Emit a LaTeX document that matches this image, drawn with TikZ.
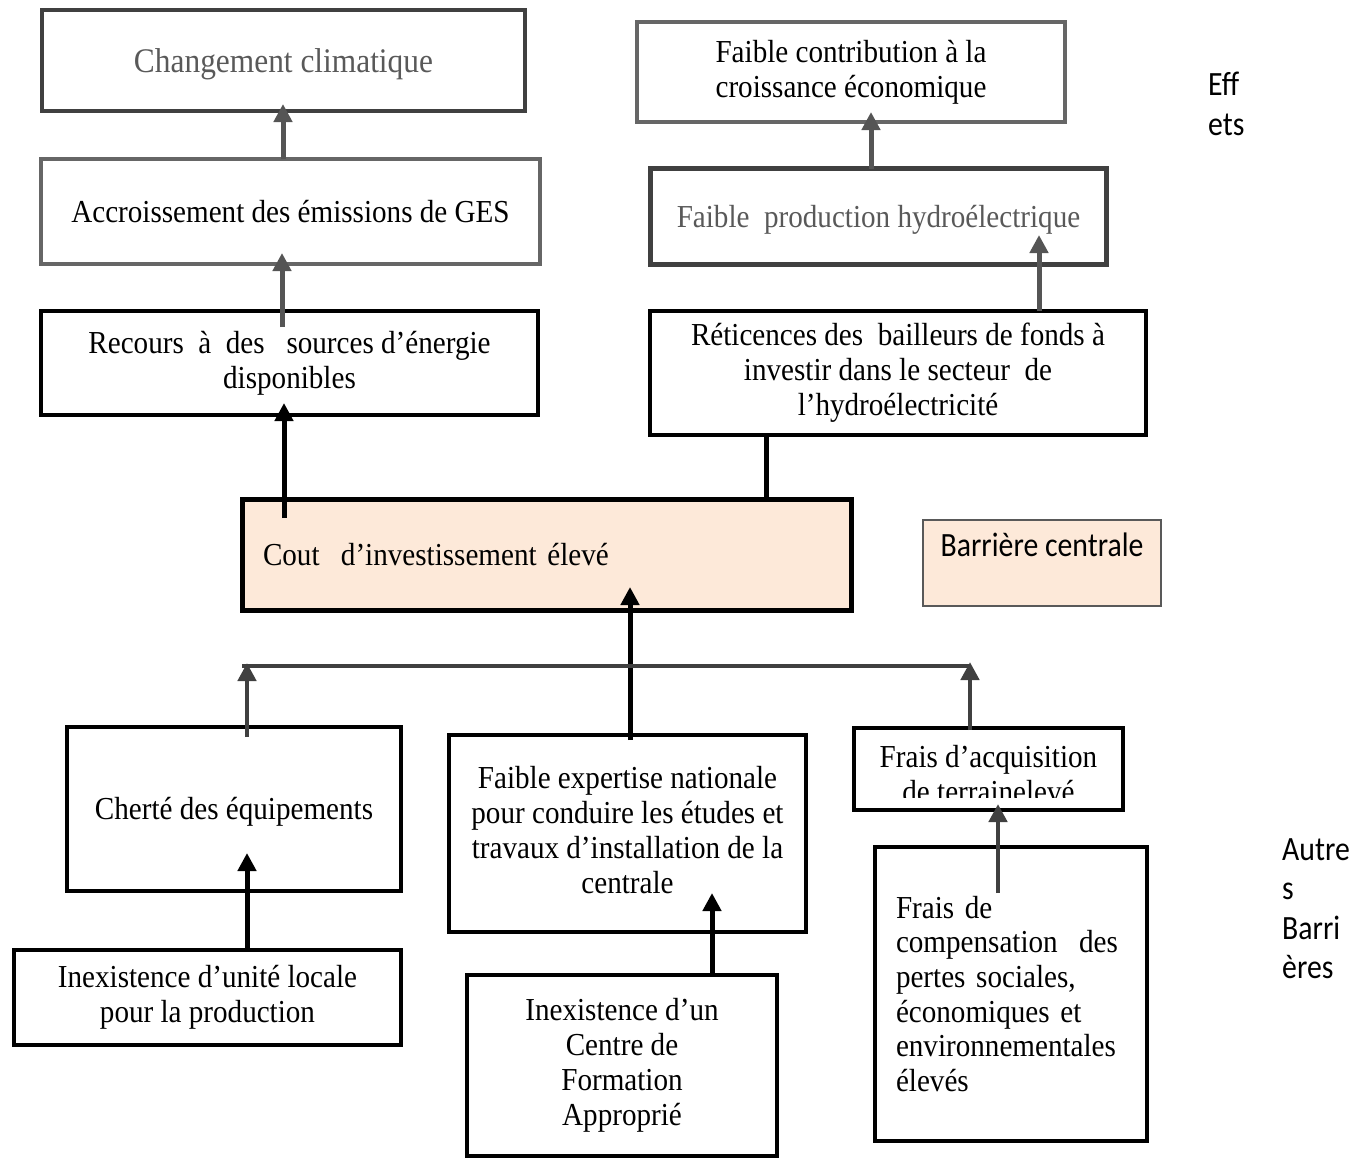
\documentclass[tikz,border=0pt]{standalone}
\usepackage{fontspec}
\setmainfont{Liberation Serif}[FakeStretch=0.91]
\newfontfamily\legendfont{Carlito}[FakeStretch=0.875]
\usepackage{xcolor}
\usepackage{tikz}
\usetikzlibrary{arrows.meta}

\definecolor{peach}{HTML}{FDE9D9}
\definecolor{darkline}{HTML}{404040}
\definecolor{midline}{HTML}{555555}
\definecolor{lightline}{HTML}{666666}
\definecolor{graytext}{HTML}{595959}
\newcommand\wstrut{\rule[-0.216em]{0pt}{1.107em}}

\begin{document}
\begin{tikzpicture}[x=1pt,y=-1pt,
    every node/.style={font=\fontsize{32}{35}\selectfont},
    box/.style={rectangle,draw,anchor=north west,align=center,inner sep=0pt,outer sep=0pt,
      execute at begin node=\wstrut,execute at end node=\wstrut},
    effectbox/.style={box},
    causebox/.style={box,draw=black,line width=4.5pt},
    corebox/.style={box,draw=black,line width=5pt,fill=peach},
    legendbox/.style={rectangle,draw=graytext,line width=1.5pt,fill=peach,anchor=north west,
      inner sep=0pt,outer sep=0pt,font={\legendfont\fontsize{34}{38}\selectfont}},
    sidelabel/.style={anchor=north west,align=left,inner sep=0pt,
      font={\legendfont\fontsize{34}{39.5}\selectfont}},
    effectedge/.style={line width=5pt,midline,-{Triangle[width=18pt,length=18pt]}},
    causeedge/.style={line width=5pt,black,-{Triangle[width=18pt,length=18pt]}},
    causeline/.style={line width=5pt,black},
    baredge/.style={line width=4.5pt,darkline,-{Triangle[width=18pt,length=18pt]}},
    barline/.style={line width=4pt,darkline},
]
\useasboundingbox (0,0) rectangle (1371,1160);

\node[effectbox,draw=darkline,line width=4.5pt,text=graytext,font=\fontsize{34.5}{38}\selectfont,
  minimum width=483pt,minimum height=101pt] (clim) at (42,10) {Changement climatique};
\node[effectbox,draw=lightline,line width=3.5pt,minimum width=499pt,minimum height=105pt] (ges) at (41,159)
  {Accroissement des émissions de GES};
\node[causebox,line width=4pt,minimum width=497pt,minimum height=104pt] (recours) at (41,311)
  {Recours\ \ à\ \ des\ \ \ sources d’énergie\\disponibles};
\node[effectbox,draw=lightline,line width=3.5pt,minimum width=428pt,minimum height=100pt] (contrib) at (637,22)
  {Faible contribution à la\\croissance économique};
\node[effectbox,draw=darkline,line width=5pt,text=graytext,minimum width=456pt,minimum height=96pt] (hydro) at (650.5,168.5)
  {Faible\ \ production hydroélectrique};
\node[causebox,line width=4pt,minimum width=496pt,minimum height=124pt] (retic) at (650,311)
  {Réticences des\ \ bailleurs de fonds à\\investir dans le secteur\ \ de\\l’hydroélectricité};
\node[corebox,minimum width=609pt,minimum height=111pt,text width=568pt,inner xsep=20.5pt,align=left] (cout) at (242.5,499.5)
  {Cout\ \ d’investissement élevé};
\node[legendbox,minimum width=238pt,minimum height=86pt,text height=23pt,text depth=37pt] (central) at (923,520)
  {Barrière centrale};

\node[causebox,minimum width=334pt,minimum height=164pt] (cherte) at (67,727) {Cherté des équipements};
\node[causebox,minimum width=357pt,minimum height=197pt] (expert) at (449,735)
  {Faible expertise nationale\\pour conduire les études et\\travaux d’installation de la\\centrale};
\node[causebox,minimum width=269pt,minimum height=82pt] (acq) at (854,728) {};
\begin{scope}
  \clip (acq.north west) rectangle ([yshift=13pt]acq.south east);
  \node[align=center,inner sep=0pt,anchor=north,execute at begin node=\wstrut] (acqtext) at ([yshift=-17pt]acq.north)
    {Frais d’acquisition\\de terrainelevé};
\end{scope}
\node[causebox,minimum width=272pt,minimum height=294pt,text width=230pt,inner xsep=21pt,align=left,
  font=\fontsize{32}{34.6}\selectfont] (comp) at (875,847)
  {Frais de\\compensation\ \ des\\pertes sociales,\\économiques et\\environnementales\\élevés};
\node[causebox,minimum width=387pt,minimum height=95pt] (unite) at (14,950)
  {Inexistence d’unité locale\\pour la production};
\node[causebox,minimum width=310pt,minimum height=181pt] (centre) at (467,975)
  {Inexistence d’un\\Centre de\\Formation\\Approprié};

\node[sidelabel] (effets) at (1208,72) {Eff\\ets};
\node[sidelabel] (autres) at (1282,838) {Autre\\s\\Barri\\ères};

\draw[effectedge,shorten >=-7pt] (ges.north -| 283,0) -- (clim.south -| 283,0);
\draw[effectedge,shorten <=-16pt,shorten >=-11pt] (recours.north -| 282,0) -- (ges.south -| 282,0);
\draw[causeedge,shorten <=-18.5pt,shorten >=-12pt] (cout.north -| 284,0) -- (recours.south -| 284,0);
\draw[effectedge,shorten >=-10pt] (hydro.north -| 871,0) -- (contrib.south -| 871,0);
\draw[effectedge,shorten >=-29.5pt] (retic.north -| 1039,0) -- (hydro.south -| 1039,0);
\draw[causeline,shorten >=-2.5pt] (retic.south -| 766,0) -- (cout.north -| 766,0);
\draw[causeedge,shorten <=-5pt,shorten >=-23.5pt] (expert.north -| 630,0) -- (cout.south -| 630,0);

\coordinate (barL) at (242,666);
\coordinate (barR) at (970,666);
\draw[baredge,shorten <=-10pt,shorten >=-3pt] (cherte.north -| 247,0) -- (barL -| 247,0);
\draw[baredge,shorten <=-2pt,shorten >=-4pt] (acq.north -| barR) -- (barR);
\draw[barline] (barL) -- (barR);

\draw[causeedge,shorten >=-38pt] (unite.north -| 247,0) -- (cherte.south -| 247,0);
\draw[causeedge,shorten >=-39pt] (centre.north -| 712,0) -- (expert.south -| 712,0);
\draw[baredge,shorten <=-46pt,shorten >=-6pt] (comp.north -| 998,0) -- (acq.south -| 998,0);
\end{tikzpicture}
\end{document}
